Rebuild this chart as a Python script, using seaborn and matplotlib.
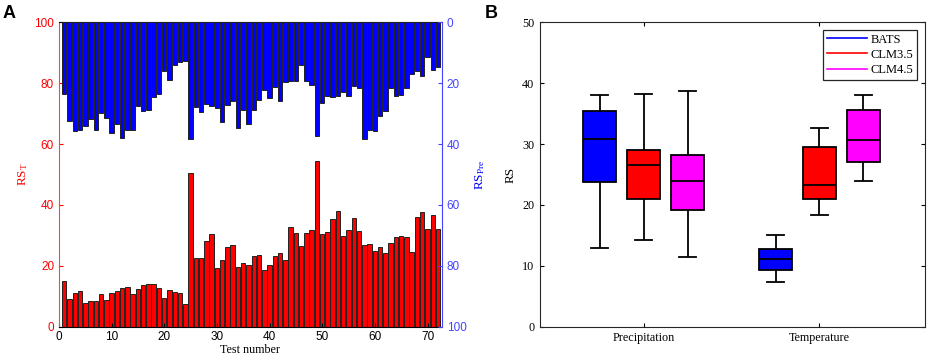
import numpy as np
import pandas as pd
import seaborn as sns
import matplotlib.pyplot as plt
from matplotlib.lines import Line2D

# Panel A: RS for each test (temperature bars from bottom, precipitation bars hanging from top)
test_num = np.arange(1, 73)
rs_t = [15.0, 9.1, 11.0, 11.8, 7.9, 8.3, 8.4, 10.6, 8.8, 11.0,
        11.6, 12.7, 12.9, 10.7, 12.5, 13.6, 14.1, 14.0, 12.8, 9.5,
        12.0, 11.4, 11.0, 7.4, 50.6, 22.5, 22.5, 28.1, 30.4, 19.4,
        21.9, 26.2, 26.9, 19.7, 20.8, 20.4, 23.1, 23.7, 18.5, 20.3,
        23.2, 24.2, 21.9, 32.9, 30.7, 26.5, 30.7, 31.7, 54.3, 30.3,
        31.0, 35.5, 38.1, 29.9, 31.9, 35.8, 31.4, 26.8, 27.1, 25.0,
        26.2, 24.1, 27.4, 29.4, 29.8, 29.5, 24.6, 36.0, 37.7, 32.1,
        36.6, 32.1]
rs_pre = [23.5, 32.3, 35.7, 35.5, 34.1, 31.7, 35.3, 29.9, 31.3, 36.4,
          33.3, 37.9, 35.5, 35.5, 27.5, 29.0, 28.9, 24.5, 23.5, 15.9,
          18.8, 13.9, 13.0, 12.8, 38.2, 27.8, 29.6, 26.9, 27.5, 28.0,
          32.7, 27.1, 25.7, 34.8, 28.9, 33.5, 28.9, 25.5, 22.1, 24.9,
          21.2, 25.7, 19.5, 19.1, 19.3, 14.1, 19.1, 20.7, 37.3, 26.4,
          24.2, 24.4, 24.3, 22.8, 24.3, 20.9, 21.4, 38.4, 35.2, 35.8,
          30.8, 29.2, 21.5, 24.1, 23.7, 21.7, 17.0, 15.9, 17.7, 11.3,
          15.7, 14.6]

# Panel B: box summary (min, Q1, median, Q3, max) per variable and model
variables = ['Precipitation', 'Temperature']
models = ['BATS', 'CLM3.5', 'CLM4.5']
box_stats = {
    ('Precipitation', 'BATS'): [13.0, 23.7, 30.8, 35.5, 38.1],
    ('Precipitation', 'CLM3.5'): [14.3, 21.0, 26.5, 29.1, 38.3],
    ('Precipitation', 'CLM4.5'): [11.4, 19.1, 24.0, 28.2, 38.7],
    ('Temperature', 'BATS'): [7.3, 9.3, 11.2, 12.7, 15.1],
    ('Temperature', 'CLM3.5'): [18.4, 21.0, 23.3, 29.5, 32.7],
    ('Temperature', 'CLM4.5'): [24.0, 27.1, 30.6, 35.6, 38.0],
}
model_colors = ['#0000FF', '#FF0000', '#FF00FF']

rows = []
for (var, mod), vals in box_stats.items():
    for v in vals:
        rows.append({'var': var, 'model': mod, 'RS': v})
df_box = pd.DataFrame(rows)

plt.rcParams['font.family'] = ['Liberation Serif', 'DejaVu Serif']
plt.rcParams['mathtext.default'] = 'regular'

fig = plt.figure(figsize=(9.27, 3.61), dpi=100)
axA = fig.add_axes([0.0636, 0.095, 0.4129, 0.843])
axB = fig.add_axes([0.5825, 0.095, 0.4153, 0.843])

# ---- Panel A
sns.barplot(x=test_num, y=rs_t, native_scale=True, color='#FF0000', saturation=1,
            width=0.85, edgecolor='#222222', linewidth=0.7, ax=axA)
axA.set_xlim(0, 72.7)
axA.set_ylim(0, 100)
axA.set_xticks(np.arange(0, 71, 10))
axA.set_yticks(np.arange(0, 101, 20))
axA.set_xlabel('Test number', fontsize=8.7, labelpad=1)
axA.set_ylabel('RS$_{T}$', color='red', fontsize=9.5, labelpad=3)
axA.tick_params(axis='y', colors='red', direction='in', labelsize=8.5, length=3)
axA.tick_params(axis='x', direction='in', labelsize=8.5, length=3, pad=3)
for lab in axA.get_xticklabels() + axA.get_yticklabels():
    lab.set_fontfamily('Liberation Sans')
axA.spines['left'].set_color('#FF4444')
axA.spines['right'].set_visible(False)

axA2 = axA.twinx()
sns.barplot(x=test_num, y=rs_pre, native_scale=True, color='#0000FF', saturation=1,
            width=0.85, edgecolor='#222222', linewidth=0.7, ax=axA2)
axA2.set_xlim(0, 72.7)
axA2.set_ylim(100, 0)
axA2.set_yticks(np.arange(0, 101, 20))
axA2.set_ylabel('RS$_{Pre}$', color='blue', fontsize=9.5, labelpad=5)
axA2.tick_params(axis='y', colors='#4444FF', direction='in', labelsize=8.5, length=3)
for lab in axA2.get_yticklabels():
    lab.set_fontfamily('Liberation Sans')
axA2.spines['right'].set_color('#4444FF')
axA2.spines['left'].set_visible(False)
axA2.spines['top'].set_visible(False)
axA2.spines['bottom'].set_visible(False)

# ---- Panel B
sns.boxplot(data=df_box, x='var', y='RS', hue='model', order=variables, hue_order=models,
            palette=model_colors, saturation=1, width=0.75, gap=0.24, whis=(0, 100),
            linecolor='black', linewidth=1.3, legend=False, ax=axB)
axB.set_xlim(-0.59, 1.6)
axB.set_ylim(0, 50)
axB.set_yticks(np.arange(0, 51, 10))
axB.set_xlabel('')
axB.set_ylabel('RS', fontsize=9.5, labelpad=4)
axB.tick_params(direction='in', labelsize=8.7, top=True, right=True, length=3, pad=4)
for sp in axB.spines.values():
    sp.set_color('#262626')
    sp.set_linewidth(0.8)
handles = [Line2D([0], [0], color=c, lw=1.2) for c in model_colors]
leg = axB.legend(handles, models, loc='upper right', fontsize=9, frameon=True,
                 fancybox=False, edgecolor='#262626', framealpha=1,
                 handlelength=3.2, handletextpad=0.3, borderpad=0.3,
                 labelspacing=0.25, borderaxespad=0.6)
leg.get_frame().set_linewidth(0.9)

fig.text(0.003, 0.985, 'A', fontsize=13, fontweight='bold', fontfamily='Liberation Sans', va='top')
fig.text(0.523, 0.985, 'B', fontsize=13, fontweight='bold', fontfamily='Liberation Sans', va='top')

fig.savefig('out.png', dpi=100)
